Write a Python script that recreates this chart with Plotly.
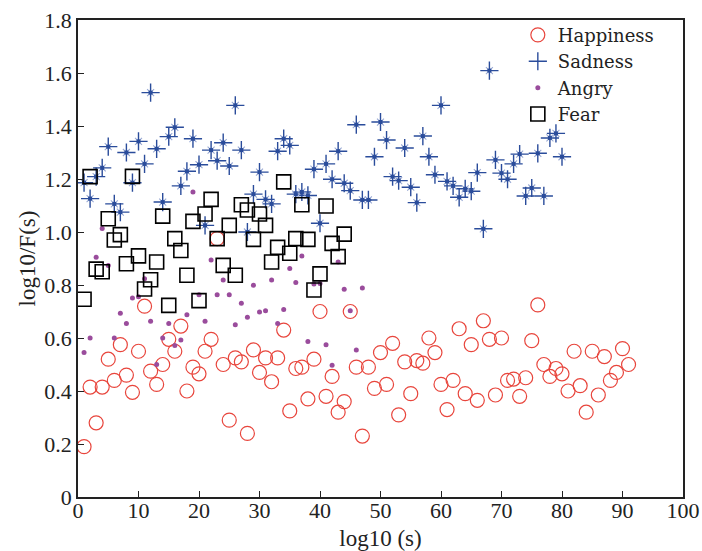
import plotly.graph_objects as go

happy_x = list(range(1, 92))
happy_y = [0.19, 0.415, 0.28, 0.415, 0.52, 0.44, 0.575, 0.46, 0.395, 0.55,
           0.72, 0.475, 0.425, 0.50, 0.595, 0.55, 0.645, 0.40, 0.49, 0.465,
           0.55, 0.595, 0.975, 0.50, 0.29, 0.525, 0.51, 0.24, 0.555, 0.47,
           0.525, 0.435, 0.525, 0.63, 0.325, 0.485, 0.49, 0.37, 0.52, 0.70,
           0.38, 0.455, 0.32, 0.36, 0.70, 0.49, 0.23, 0.49, 0.41, 0.545,
           0.425, 0.58, 0.31, 0.51, 0.39, 0.515, 0.505, 0.60, 0.545, 0.425,
           0.33, 0.44, 0.635, 0.39, 0.575, 0.365, 0.665, 0.595, 0.385, 0.60,
           0.44, 0.445, 0.38, 0.45, 0.59, 0.725, 0.50, 0.455, 0.485, 0.465,
           0.40, 0.55, 0.42, 0.32, 0.55, 0.385, 0.53, 0.44, 0.47, 0.56, 0.50]

sad_x = list(range(1, 81))
sad_y = [1.186, 1.126, 1.209, 1.242, 1.322, 1.106, 1.075, 1.30, 1.186, 1.342,
         1.257, 1.526, 1.314, 1.113, 1.36, 1.395, 1.174, 1.229, 1.352, 1.254,
         1.025, 1.309, 1.269, 1.337, 1.249, 1.478, 1.309, 1.0, 1.143, 1.226,
         1.123, 1.106, 1.305, 1.352, 1.327, 1.143, 1.151, 1.138, 1.237, 1.033,
         1.257, 1.199, 1.305, 1.184, 1.156, 1.405, 1.121, 1.121, 1.284, 1.415,
         1.347, 1.209, 1.194, 1.317, 1.169, 1.111, 1.362, 1.284, 1.216, 1.478,
         1.191, 1.174, 1.131, 1.163, 1.154, 1.224, 1.012, 1.609, 1.272, 1.222,
         1.199, 1.257, 1.294, 1.136, 1.166, 1.297, 1.136, 1.355, 1.372, 1.284]

angry_x = list(range(1, 48))
angry_y = [0.545, 0.60, 0.905, 1.013, 0.874, 0.60, 0.693, 0.655, 0.751, 0.756,
           0.824, 0.663, 0.50, 0.60, 0.655, 0.572, 0.592, 0.688, 1.151, 0.763,
           0.663, 0.894, 0.763, 0.819, 0.763, 0.65, 0.731, 0.678, 0.799, 0.698,
           0.703, 0.819, 0.655, 0.708, 0.862, 0.809, 0.909, 0.587, 0.804, 0.806,
           0.575, 0.497, 0.887, 0.784, 0.703, 0.555, 0.789]

fear_x = list(range(1, 45))
fear_y = [0.746, 1.209, 0.86, 0.85, 1.05, 0.97, 0.99, 0.88, 1.21, 0.91,
          0.785, 0.82, 0.887, 1.06, 0.723, 0.975, 0.93, 0.837, 1.04, 0.741,
          1.068, 1.123, 0.975, 0.874, 1.025, 0.837, 1.103, 1.083, 0.972, 1.068,
          1.025, 0.887, 0.942, 1.189, 0.92, 0.975, 1.103, 0.972, 0.781, 0.842,
          1.098, 0.957, 0.907, 0.992]

y_ticks = [0, 0.2, 0.4, 0.6, 0.8, 1.0, 1.2, 1.4, 1.6, 1.8]
y_tick_text = ["0", "0.2", "0.4", "0.6", "0.8", "1.0", "1.2", "1.4", "1.6", "1.8"]
x_ticks = [0, 10, 20, 30, 40, 50, 60, 70, 80, 90, 100]

FONT = "Liberation Serif"
LEG_FONT = "DejaVu Serif"
RED = "#e8453c"
BLUE = "#2a4c9b"
PURPLE = "#9a4c9c"

fig = go.Figure()
fig.add_trace(go.Scatter(x=happy_x, y=happy_y, mode="markers", name="Happiness",
                         marker=dict(symbol="circle-open", size=14, color=RED,
                                     line=dict(width=1.2, color=RED))))
fig.add_trace(go.Scatter(x=sad_x, y=sad_y, mode="markers", name="Sadness",
                         marker=dict(symbol="cross-thin-open", size=13, color=BLUE,
                                     line=dict(width=1.4, color=BLUE))))
fig.add_trace(go.Scatter(x=sad_x, y=sad_y, mode="markers", showlegend=False,
                         hoverinfo="skip",
                         marker=dict(symbol="x-thin-open", size=7, color="#9aaad4",
                                     line=dict(width=1.1, color="#9aaad4"))))
fig.add_trace(go.Scatter(x=sad_x, y=sad_y, mode="markers", showlegend=False,
                         hoverinfo="skip",
                         marker=dict(symbol="square", size=4, color=BLUE,
                                     line=dict(width=0))))
fig.add_trace(go.Scatter(x=angry_x, y=angry_y, mode="markers", name="Angry",
                         marker=dict(symbol="circle", size=5, color=PURPLE,
                                     line=dict(width=0))))
fig.add_trace(go.Scatter(x=fear_x, y=fear_y, mode="markers", name="Fear",
                         marker=dict(symbol="square-open", size=14, color="black",
                                     line=dict(width=1.6, color="black"))))

axis_common = dict(showline=True, linecolor="#222222", linewidth=1.5, mirror=True,
                   ticks="inside", ticklen=6, tickwidth=1.2, tickcolor="#222222",
                   showgrid=False, zeroline=False, automargin=False,
                   tickfont=dict(family=FONT, size=22, color="#222222"))

fig.update_layout(
    width=702, height=551,
    margin=dict(l=78, r=19, t=20, b=54),
    paper_bgcolor="white", plot_bgcolor="white",
    font=dict(family=FONT, size=20, color="#222222"),
    showlegend=True,
    legend=dict(x=0.727, y=1.007, xanchor="left", yanchor="top",
                bgcolor="rgba(0,0,0,0)", borderwidth=0,
                font=dict(family=LEG_FONT, size=18, color="#222222"),
                itemwidth=30),
    xaxis=dict(range=[0, 100], tickvals=x_ticks, ticklabelstandoff=-7,
               title=dict(text="log10 (s)", font=dict(family=FONT, size=23), standoff=8),
               **axis_common),
    yaxis=dict(range=[0, 1.8], tickvals=y_ticks, ticktext=y_tick_text,
               ticklabelstandoff=0,
               title=dict(text="log10/F(s)", font=dict(family=FONT, size=23), standoff=2),
               **axis_common),
)

fig.write_html("out.html")
